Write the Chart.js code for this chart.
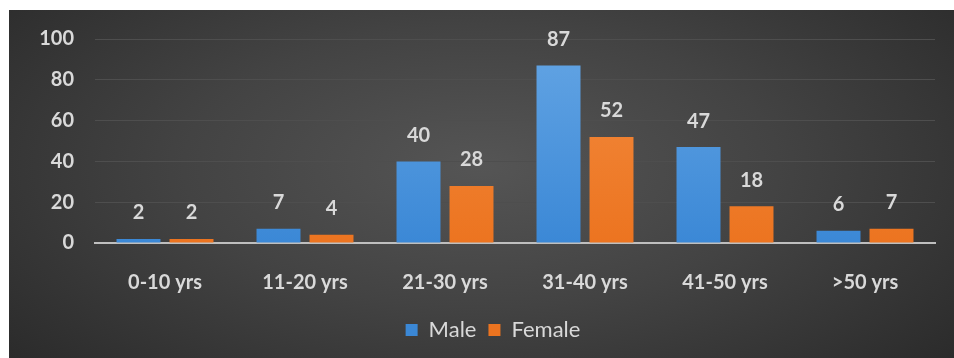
<!DOCTYPE html>
<html>
<head>
<meta charset="utf-8">
<script src="https://cdn.jsdelivr.net/npm/chart.js@4"></script>
<style>
  html, body { margin: 0; padding: 0; background: #ffffff; width: 954px; height: 358px; overflow: hidden; }
  #wrap {
    position: absolute; left: 9px; top: 10px; width: 945px; height: 348px;
    background: radial-gradient(ellipse 70% 90% at 50% 45%, #555555 0%, #434343 45%, #282828 100%);
  }
  canvas { display: block; }
</style>
</head>
<body>
<div id="wrap"><canvas id="c" width="945" height="348"></canvas></div>
<script>
const categories = ["0-10 yrs", "11-20 yrs", "21-30 yrs", "31-40 yrs", "41-50 yrs", ">50 yrs"];
const maleValues = [2, 7, 40, 87, 47, 6];
const femaleValues = [2, 4, 28, 52, 18, 7];
const yTicks = [0, 20, 40, 60, 80, 100];

const FONT = "Lato, 'Open Sans', sans-serif";
const TEXT = "#d9d9d9";

function grad(ctx, top, bottom) {
  const chart = ctx.chart;
  const area = chart.chartArea;
  if (!area) return top;
  const g = chart.ctx.createLinearGradient(0, area.top, 0, area.bottom);
  g.addColorStop(0, top);
  g.addColorStop(1, bottom);
  return g;
}

const valueLabels = {
  id: "valueLabels",
  afterLayout(chart) {
    if (chart.legend) { chart.legend.left += 21; chart.legend.right += 21; }
  },
  afterDatasetsDraw(chart) {
    const ctx = chart.ctx;
    ctx.save();
    ctx.fillStyle = TEXT;
    ctx.font = "bold 20px " + FONT;
    ctx.textAlign = "center";
    ctx.textBaseline = "middle";
    chart.data.datasets.forEach((ds, i) => {
      chart.getDatasetMeta(i).data.forEach((bar, j) => {
        ctx.fillText(String(ds.data[j]), bar.x, bar.y - 26);
      });
    });
    ctx.restore();
  }
};

new Chart(document.getElementById("c"), {
  type: "bar",
  data: {
    labels: categories,
    datasets: [
      {
        label: "Male",
        data: maleValues,
        backgroundColor: (c) => grad(c, "#64a5e4", "#3b88d6"),
        borderWidth: 0
      },
      {
        label: "Female",
        data: femaleValues,
        backgroundColor: (c) => grad(c, "#f38c40", "#ec7420"),
        borderWidth: 0
      }
    ]
  },
  options: {
    responsive: false,
    animation: false,
    devicePixelRatio: 1,
    layout: { padding: { left: 0, right: 19, top: 29, bottom: 7 } },
    datasets: { bar: { categoryPercentage: 0.757, barPercentage: 0.83 } },
    plugins: {
      tooltip: { enabled: false },
      legend: {
        position: "bottom",
        labels: {
          color: TEXT,
          font: { family: FONT, size: 22 },
          boxWidth: 12,
          boxHeight: 12,
          padding: 12,
          useBorderRadius: false
        }
      }
    },
    scales: {
      x: {
        grid: { display: false, drawTicks: false },
        border: { display: true, color: "#bfbfbf", width: 2 },
        ticks: { color: TEXT, font: { family: FONT, size: 20, weight: "bold" }, padding: 28, maxRotation: 0 },
        afterFit(scale) { scale.height = 64; scale.paddingLeft = 0; scale.paddingRight = 0; }
      },
      y: {
        min: 0,
        max: 100,
        afterBuildTicks(scale) { scale.ticks = yTicks.map(v => ({ value: v })); },
        grid: { color: (c) => c.tick.value === 0 ? "rgba(0,0,0,0)" : "#4e4e4e", lineWidth: 1, drawTicks: false },
        border: { display: false },
        ticks: { color: TEXT, font: { family: FONT, size: 20, weight: "bold" }, padding: 21 },
        afterFit(scale) { scale.width = 86; scale.paddingTop = 0; scale.paddingBottom = 0; }
      }
    }
  },
  plugins: [valueLabels]
});
</script>
</body>
</html>
